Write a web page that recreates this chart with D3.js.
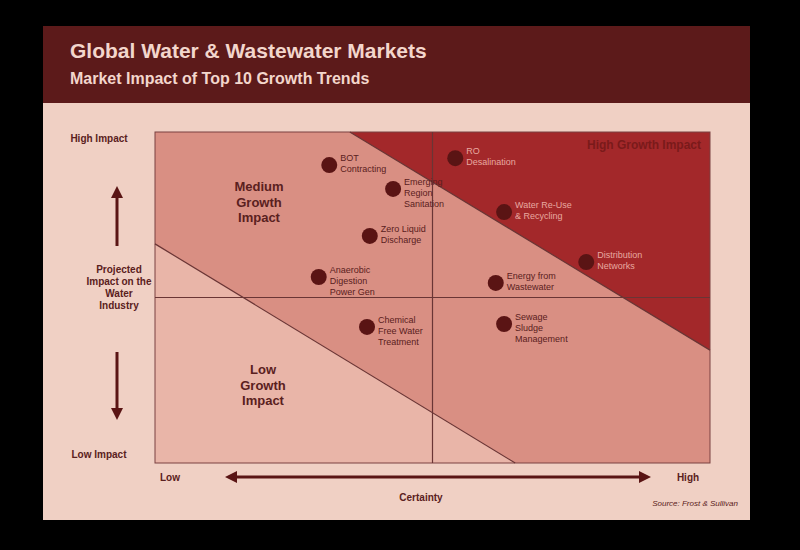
<!DOCTYPE html><html><head><meta charset="utf-8"><script src="https://cdn.jsdelivr.net/npm/d3@7"></script>
<style>body{margin:0;background:#000}text{font-family:"Liberation Sans",Arial,sans-serif}</style></head><body><svg id="c" width="800" height="550"></svg><script>
const names=["BOT|Contracting","RO|Desalination","Emerging|Region|Sanitation","Water Re-Use|& Recycling","Zero Liquid|Discharge","Distribution|Networks","Anaerobic|Digestion|Power Gen","Energy from|Wastewater","Chemical|Free Water|Treatment","Sewage|Sludge|Management"];
const certainty=[3.14,5.41,4.29,6.29,3.87,7.77,2.95,6.14,3.82,6.29];
const impact=[9.0,9.21,8.28,7.58,6.86,6.07,5.62,5.44,4.11,4.2];
const inHigh=[false,true,false,true,false,true,false,false,false,false];
const upperLine=[[3.51,10],[10,3.41]], lowerLine=[[0,6.62],[6.49,0]];
const svg=d3.select("#c");
svg.append("rect").attr("x",43).attr("y",26).attr("width",707).attr("height",494).attr("fill","#f0d0c4");
svg.append("rect").attr("x",43).attr("y",26).attr("width",707).attr("height",77).attr("fill","#5c1a1a");
svg.append("text").attr("x",70).attr("y",58).attr("fill","#f3d6cc").attr("font-size",21).attr("font-weight","bold").text("Global Water & Wastewater Markets");
svg.append("text").attr("x",70).attr("y",84).attr("fill","#f3d6cc").attr("font-size",16).attr("font-weight","bold").text("Market Impact of Top 10 Growth Trends");
const x=d3.scaleLinear().domain([0,10]).range([155,710]), y=d3.scaleLinear().domain([0,10]).range([463,132]);
const P=(a)=>a.map(d=>[x(d[0]),y(d[1])].join(",")).join(" ");
svg.append("polygon").attr("points",P([[0,0],[10,0],[10,10],[0,10]])).attr("fill","#d98f83");
svg.append("polygon").attr("points",P([[0,0],[0,lowerLine[0][1]],lowerLine[1]])).attr("fill","#e9b5a8");
svg.append("polygon").attr("points",P([upperLine[0],[10,10],upperLine[1]])).attr("fill","#a3282a");
svg.append("rect").attr("x",155).attr("y",132).attr("width",555).attr("height",331).attr("fill","none").attr("stroke","#7a4040").attr("stroke-width",1);
const ln=(a,b)=>svg.append("line").attr("x1",x(a[0])).attr("y1",y(a[1])).attr("x2",x(b[0])).attr("y2",y(b[1])).attr("stroke","#6a3535").attr("stroke-width",1.2);
ln(upperLine[0],upperLine[1]);ln(lowerLine[0],lowerLine[1]);ln([5,0],[5,10]);ln([0,5],[10,5]);
names.forEach((n,i)=>{const cx=x(certainty[i]),cy=y(impact[i]);
svg.append("circle").attr("cx",cx).attr("cy",cy).attr("r",8).attr("fill","#5a1414");
const t=svg.append("text").attr("x",cx+11).attr("y",cy-4).attr("font-size",9).attr("fill",inHigh[i]?"#e8a8a0":"#5a2020");
n.split("|").forEach((s,j)=>t.append("tspan").attr("x",cx+11).attr("dy",j?11:0).text(s));});
const lbl=(lines,cx,cy,fs,col,anchor)=>{const t=svg.append("text").attr("font-size",fs).attr("font-weight","bold").attr("fill",col).attr("text-anchor",anchor||"middle");lines.forEach((s,j)=>t.append("tspan").attr("x",cx).attr("y",cy+j*fs*1.2).text(s));};
lbl(["Medium","Growth","Impact"],259,191,13,"#5a2020");
lbl(["Low","Growth","Impact"],263,374,13,"#5a2020");
lbl(["High Growth Impact"],701,149,12,"#7a1a1a","end");
lbl(["High Impact"],99,142,10,"#5a2020");
lbl(["Low Impact"],99,458,10,"#5a2020");
lbl(["Projected","Impact on the","Water","Industry"],119,273,10,"#5a2020");
lbl(["Low"],170,481,10,"#5a2020");lbl(["High"],688,481,10,"#5a2020");
lbl(["Certainty"],421,501,10,"#5a2020");
svg.append("text").attr("x",738).attr("y",506).attr("text-anchor","end").attr("font-size",8).attr("font-style","italic").attr("fill","#5a2020").text("Source: Frost & Sullivan");
const defs=svg.append("defs");defs.append("marker").attr("id","ah").attr("viewBox","0 0 10 10").attr("refX",5).attr("refY",5).attr("markerWidth",4).attr("markerHeight",4).attr("orient","auto").append("path").attr("d","M0,0L10,5L0,10z").attr("fill","#5a1414");
const ar=(x1,y1,x2,y2)=>svg.append("line").attr("x1",x1).attr("y1",y1).attr("x2",x2).attr("y2",y2).attr("stroke","#5a1414").attr("stroke-width",3).attr("marker-end","url(#ah)");
ar(117,246,117,192);ar(117,352,117,414);ar(440,477,231,477);ar(440,477,645,477);
</script></body></html>
